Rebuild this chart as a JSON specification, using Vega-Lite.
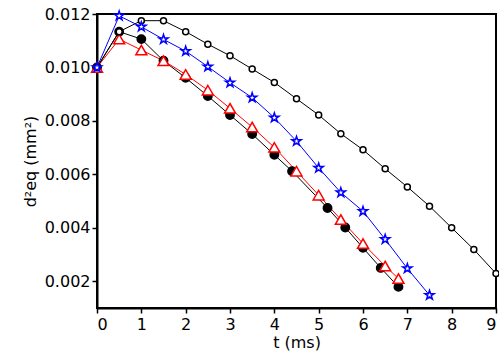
{
  "$schema": "https://vega.github.io/schema/vega-lite/v6.json",
  "width": 399,
  "height": 294,
  "autosize": "none",
  "padding": {"left": 97, "top": 14, "right": 3, "bottom": 52},
  "background": "white",
  "config": {
    "view": {"stroke": "black", "strokeWidth": 2},
    "axis": {"domainColor": "black", "domainWidth": 2, "tickColor": "black", "tickWidth": 1.5, "labelFont": "DejaVu Sans", "labelFontSize": 16, "labelColor": "black", "titleFont": "DejaVu Sans", "titleFontSize": 16, "titleFontWeight": "normal", "titleColor": "black", "grid": false},
    "legend": {"orient": "none", "legendX": 28, "legendY": 179, "padding": 0, "labelFont": "DejaVu Sans", "labelFontSize": 16, "labelColor": "black", "symbolSize": 80, "symbolStrokeWidth": 1.5, "symbolFillColor": "white", "labelOffset": 12, "rowPadding": 6}
  },
  "data": {"values": [
    {"series": "633 K, ignition", "t": 0, "d": 0.0100},
    {"series": "633 K, ignition", "t": 0.5, "d": 0.01134},
    {"series": "633 K, ignition", "t": 1.0, "d": 0.01106},
    {"series": "633 K, ignition", "t": 1.5, "d": 0.01025},
    {"series": "633 K, ignition", "t": 2.0, "d": 0.00961},
    {"series": "633 K, ignition", "t": 2.5, "d": 0.00893},
    {"series": "633 K, ignition", "t": 3.0, "d": 0.00822},
    {"series": "633 K, ignition", "t": 3.5, "d": 0.00751},
    {"series": "633 K, ignition", "t": 4.0, "d": 0.00673},
    {"series": "633 K, ignition", "t": 4.4, "d": 0.00612},
    {"series": "633 K, ignition", "t": 5.2, "d": 0.00474},
    {"series": "633 K, ignition", "t": 5.6, "d": 0.00401},
    {"series": "633 K, ignition", "t": 6.0, "d": 0.00325},
    {"series": "633 K, ignition", "t": 6.4, "d": 0.00250},
    {"series": "633 K, ignition", "t": 6.8, "d": 0.00179},
    {"series": "300 K, ignition", "t": 0, "d": 0.0100},
    {"series": "300 K, ignition", "t": 0.5, "d": 0.01106},
    {"series": "300 K, ignition", "t": 1.0, "d": 0.01065},
    {"series": "300 K, ignition", "t": 1.5, "d": 0.01025},
    {"series": "300 K, ignition", "t": 2.0, "d": 0.00974},
    {"series": "300 K, ignition", "t": 2.5, "d": 0.00915},
    {"series": "300 K, ignition", "t": 3.0, "d": 0.00847},
    {"series": "300 K, ignition", "t": 3.5, "d": 0.00777},
    {"series": "300 K, ignition", "t": 4.0, "d": 0.00701},
    {"series": "300 K, ignition", "t": 4.5, "d": 0.00612},
    {"series": "300 K, ignition", "t": 5.0, "d": 0.00522},
    {"series": "300 K, ignition", "t": 5.5, "d": 0.00431},
    {"series": "300 K, ignition", "t": 6.0, "d": 0.00341},
    {"series": "300 K, ignition", "t": 6.5, "d": 0.00257},
    {"series": "300 K, ignition", "t": 6.8, "d": 0.00210},
    {"series": "633 K, no ignition", "t": 0, "d": 0.0100},
    {"series": "633 K, no ignition", "t": 0.5, "d": 0.01134},
    {"series": "633 K, no ignition", "t": 1.0, "d": 0.01175},
    {"series": "633 K, no ignition", "t": 1.5, "d": 0.01175},
    {"series": "633 K, no ignition", "t": 2.0, "d": 0.01134},
    {"series": "633 K, no ignition", "t": 2.5, "d": 0.01087},
    {"series": "633 K, no ignition", "t": 3.0, "d": 0.01044},
    {"series": "633 K, no ignition", "t": 3.5, "d": 0.00994},
    {"series": "633 K, no ignition", "t": 4.0, "d": 0.00944},
    {"series": "633 K, no ignition", "t": 4.5, "d": 0.00883},
    {"series": "633 K, no ignition", "t": 5.0, "d": 0.00822},
    {"series": "633 K, no ignition", "t": 5.5, "d": 0.00752},
    {"series": "633 K, no ignition", "t": 6.0, "d": 0.00692},
    {"series": "633 K, no ignition", "t": 6.5, "d": 0.00621},
    {"series": "633 K, no ignition", "t": 7.0, "d": 0.00553},
    {"series": "633 K, no ignition", "t": 7.5, "d": 0.00481},
    {"series": "633 K, no ignition", "t": 8.0, "d": 0.00400},
    {"series": "633 K, no ignition", "t": 8.5, "d": 0.00319},
    {"series": "633 K, no ignition", "t": 9.0, "d": 0.00229},
    {"series": "1000 K, no ignition", "t": 0, "d": 0.0100},
    {"series": "1000 K, no ignition", "t": 0.5, "d": 0.01193},
    {"series": "1000 K, no ignition", "t": 1.0, "d": 0.01152},
    {"series": "1000 K, no ignition", "t": 1.5, "d": 0.01105},
    {"series": "1000 K, no ignition", "t": 2.0, "d": 0.01061},
    {"series": "1000 K, no ignition", "t": 2.5, "d": 0.01003},
    {"series": "1000 K, no ignition", "t": 3.0, "d": 0.00943},
    {"series": "1000 K, no ignition", "t": 3.5, "d": 0.00887},
    {"series": "1000 K, no ignition", "t": 4.0, "d": 0.00812},
    {"series": "1000 K, no ignition", "t": 4.5, "d": 0.00724},
    {"series": "1000 K, no ignition", "t": 5.0, "d": 0.00624},
    {"series": "1000 K, no ignition", "t": 5.5, "d": 0.00532},
    {"series": "1000 K, no ignition", "t": 6.0, "d": 0.00462},
    {"series": "1000 K, no ignition", "t": 6.5, "d": 0.00357},
    {"series": "1000 K, no ignition", "t": 7.0, "d": 0.00248},
    {"series": "1000 K, no ignition", "t": 7.5, "d": 0.00148}
  ]},
  "layer": [
    {
      "mark": {"type": "line", "strokeWidth": 1},
      "encoding": {
        "x": {"field": "t", "type": "quantitative", "scale": {"domain": [0, 9], "nice": false, "zero": false},
          "axis": {"title": "t (ms)", "values": [0,1,2,3,4,5,6,7,8,9], "format": "d", "tickSize": 5, "labelPadding": 3, "titlePadding": 2}},
        "y": {"field": "d", "type": "quantitative", "scale": {"domain": [0.001, 0.012], "nice": false, "zero": false},
          "axis": {"title": "d²eq (mm²)", "values": [0.002,0.004,0.006,0.008,0.010,0.012], "format": ".3f", "tickSize": 5, "labelPadding": 2, "titlePadding": 6}},
        "detail": {"field": "series"},
        "stroke": {"field": "series", "type": "nominal", "legend": null,
          "scale": {"domain": ["633 K, ignition", "300 K, ignition", "633 K, no ignition", "1000 K, no ignition"], "range": ["black", "#ff0000", "black", "#0000ff"]}}
      }
    },
    {
      "mark": {"type": "point", "filled": false, "strokeWidth": 1.5, "opacity": 1},
      "encoding": {
        "x": {"field": "t", "type": "quantitative"},
        "y": {"field": "d", "type": "quantitative"},
        "color": {"field": "series", "type": "nominal", "title": null,
          "scale": {"domain": ["633 K, ignition", "300 K, ignition", "633 K, no ignition", "1000 K, no ignition"], "range": ["black", "#ff0000", "black", "#0000ff"]}},
        "shape": {"field": "series", "type": "nominal", "title": null,
          "scale": {"domain": ["633 K, ignition", "300 K, ignition", "633 K, no ignition", "1000 K, no ignition"], "range": ["circle", "triangle-up", "circle", "M0,-1L0.225,-0.31L0.951,-0.309L0.365,0.118L0.588,0.809L0,0.383L-0.588,0.809L-0.365,0.118L-0.951,-0.309L-0.225,-0.31Z"]}},
        "fill": {"condition": {"test": "datum.series === '633 K, ignition'", "value": "black"}, "value": "white"},
        "size": {"condition": [{"test": "datum.series === '633 K, no ignition'", "value": 36}, {"test": "datum.series === '300 K, ignition'", "value": 120}, {"test": "datum.series === '1000 K, no ignition'", "value": 95}], "value": 70}
      }
    }
  ]
}
